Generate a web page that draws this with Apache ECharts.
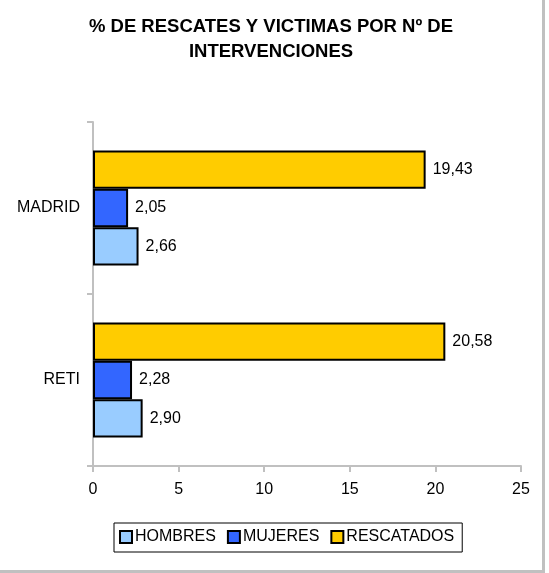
<!DOCTYPE html>
<html>
<head>
<meta charset="utf-8">
<script src="https://cdn.jsdelivr.net/npm/echarts@6/dist/echarts.min.js"></script>
<style>
  html, body { margin: 0; padding: 0; background: #fff; }
  #chart { width: 542px; height: 570px; border-right: 3px solid #c0c0c0; border-bottom: 3px solid #c0c0c0; }
</style>
</head>
<body>
<div id="chart"></div>
<script>
// categorias (de abajo a arriba)
const categories = ["RETI", "MADRID"];
const hombres = [2.90, 2.66];
const mujeres = [2.28, 2.05];
const rescatados = [20.58, 19.43];
const legendNames = ["HOMBRES", "MUJERES", "RESCATADOS"];
const xTicks = [0, 25, 5]; // min, max, intervalo

const font = "Arial, 'Liberation Sans', sans-serif";
let myChart = echarts.init(document.getElementById("chart"));

function barSeries(name, data, color) {
  return {
    name: name,
    type: "bar",
    data: data,
    barGap: "0%",
    barCategoryGap: "33%",
    itemStyle: { color: color, borderColor: "#000", borderWidth: 2 },
    label: {
      show: true,
      position: "right",
      distance: 7,
      color: "#000",
      fontFamily: font,
      fontSize: 16,
      formatter: p => p.value.toFixed(2).replace(".", ",")
    }
  };
}

myChart.setOption({
  animation: false,
  title: {
    text: "% DE RESCATES Y VICTIMAS POR Nº DE\nINTERVENCIONES",
    left: "center",
    top: 9,
    padding: [5, 14, 5, 5],
    textStyle: { fontFamily: font, fontSize: 18.5, fontWeight: "bold", color: "#000", lineHeight: 25 }
  },
  grid: { left: 93, right: 21, top: 122, bottom: 104 },
  legend: {
    data: legendNames,
    left: 114,
    top: 523,
    padding: [6, 8, 7, 5],
    itemGap: 11,
    itemWidth: 12,
    itemHeight: 12,
    icon: "rect",
    borderColor: "#000",
    borderWidth: 1,
    borderRadius: 0,
    textStyle: { fontFamily: font, fontSize: 16, color: "#000", padding: [0, 0, 0, -2] },
    itemStyle: { borderColor: "#000", borderWidth: 2 }
  },
  xAxis: {
    type: "value",
    min: xTicks[0],
    max: xTicks[1],
    interval: xTicks[2],
    splitLine: { show: false },
    axisLine: { show: true, lineStyle: { color: "#c0c0c0", width: 2 } },
    axisTick: { show: true, length: 6, lineStyle: { color: "#c0c0c0", width: 2 } },
    axisLabel: { color: "#000", fontFamily: font, fontSize: 16, margin: 16 }
  },
  yAxis: {
    type: "category",
    data: categories,
    axisLine: { show: true, lineStyle: { color: "#c0c0c0", width: 2 } },
    axisTick: { show: true, length: 6, lineStyle: { color: "#c0c0c0", width: 2 } },
    axisLabel: { color: "#000", fontFamily: font, fontSize: 16, margin: 13 }
  },
  // en ECharts la primera serie queda arriba dentro de cada banda
  series: [
    barSeries("RESCATADOS", rescatados, "#ffcc00"),
    barSeries("MUJERES", mujeres, "#3366ff"),
    barSeries("HOMBRES", hombres, "#99ccff")
  ]
});
</script>
</body>
</html>
